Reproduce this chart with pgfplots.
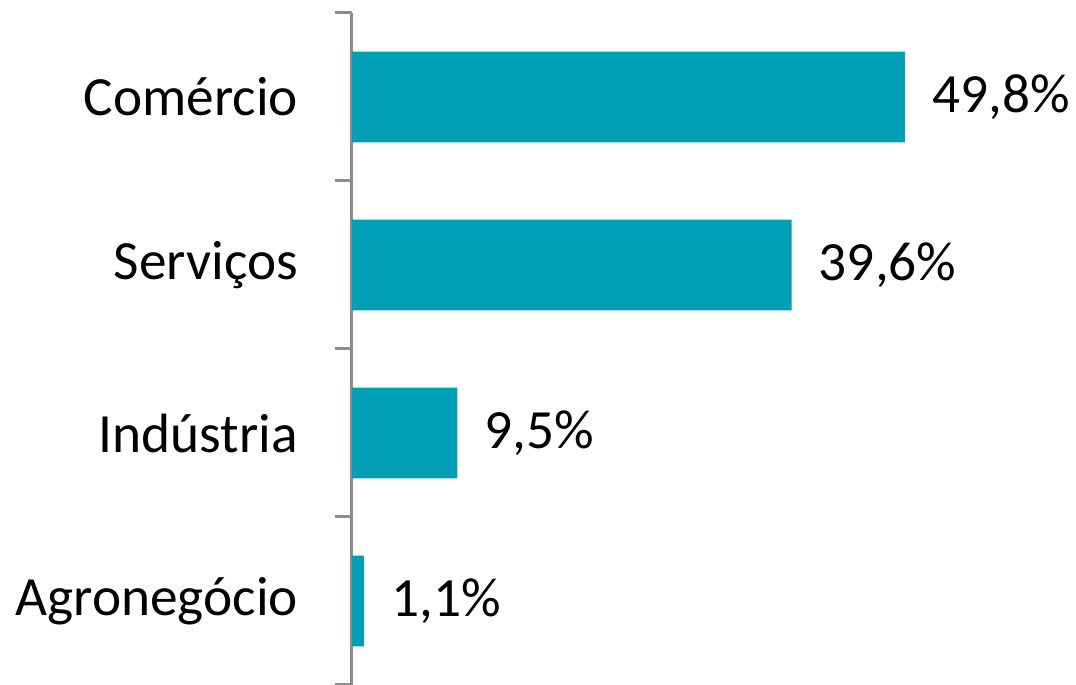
\documentclass[border=0pt]{standalone}
\usepackage{pgfplots}
\pgfplotsset{compat=1.18}
\usepackage{fontspec}
\setmainfont{Carlito}
\definecolor{barteal}{HTML}{009FB5}
\definecolor{axgray}{HTML}{8C8C8C}

\begin{document}
\begin{tikzpicture}[x=0.75pt,y=0.75pt]
\path[use as bounding box] (-352,0) rectangle (724,685);
\begin{axis}[
    at={(0,0)},
    anchor=south west,
    scale only axis,
    width=499.5pt,
    height=504pt,
    xbar,
    bar width=0.54,
    xmin=0, xmax=60,
    ymin=-0.5, ymax=3.5,
    axis x line=none,
    axis y line*=left,
    y axis line style={axgray, line width=2.25pt, -},
    ytick={0,1,2,3},
    yticklabels={Agronegócio,Indústria,Serviços,Comércio},
    major tick length=0pt,
    minor ytick={-0.5,0.5,1.5,2.5,3.5},
    minor tick length=13pt,
    tick align=outside,
    minor tick style={axgray, line width=2.25pt},
    y tick label style={font=\fontsize{41.5}{45}\selectfont, anchor=east, xshift=-37pt},
    nodes near coords={\pgfmathprintnumber[fixed, fixed zerofill, precision=1, use comma, assume math mode=true]{\pgfplotspointmeta}\%},
    nodes near coords style={font=\fontsize{41.5}{45}\selectfont, anchor=west, xshift=17pt, black},
    point meta=x,
    clip=false,
]
\addplot[fill=barteal, draw=none] coordinates {
    (1.1,0)
    (9.5,1)
    (39.6,2)
    (49.8,3)
};
\end{axis}
\end{tikzpicture}
\end{document}
